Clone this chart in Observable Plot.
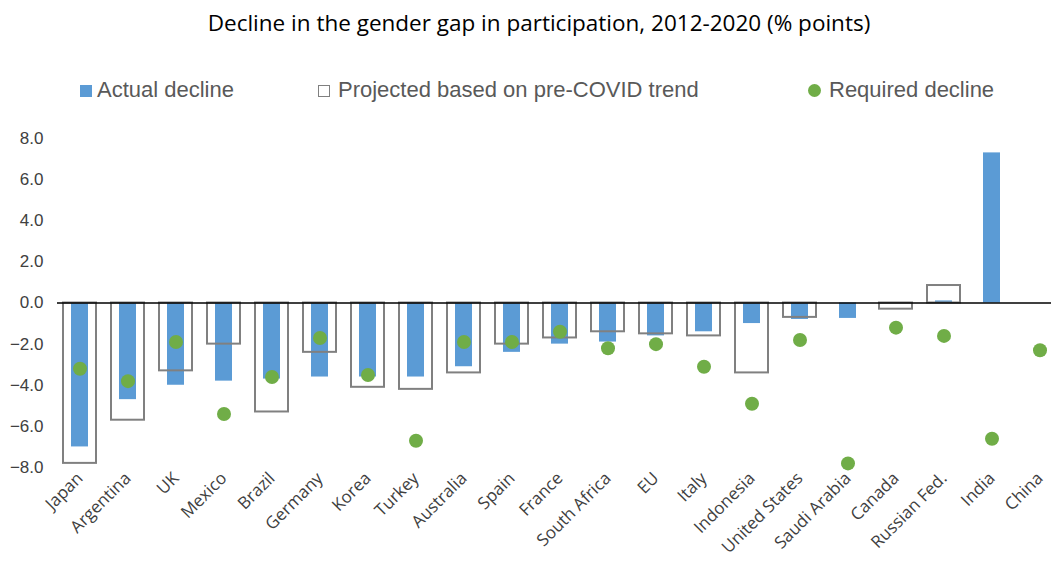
<!DOCTYPE html>
<html>
<head>
<meta charset="utf-8">
<script src="https://cdn.jsdelivr.net/npm/d3@7"></script>
<script src="https://cdn.jsdelivr.net/npm/@observablehq/plot@0.6"></script>
<style>
  body { margin: 0; background: #fff; font-family: "Open Sans", "Noto Sans", sans-serif; overflow: hidden; }
  #wrap { position: relative; width: 1051px; height: 571px; overflow: hidden; }
  #title { position: absolute; top: 7px; left: 0; width: 1078px; text-align: center; font-size: 22.5px; color: #000; }
  .leg { position: absolute; top: 77px; font-size: 22px; color: #595959; font-family: "Liberation Sans", Arial, sans-serif; }
  .sw { display: inline-block; width: 12px; height: 12px; margin-right: 5px; vertical-align: 0px; }
  #chart { position: absolute; top: 120px; left: 0; }
</style>
</head>
<body>
<div id="wrap">
  <div id="title">Decline in the gender gap in participation, 2012-2020 (% points)</div>
  <div class="leg" style="left:80px"><span class="sw" style="background:#5b9bd5"></span>Actual decline</div>
  <div class="leg" style="left:318px"><span class="sw" style="border:1.5px solid #808080;width:10px;height:10px;margin-right:8px"></span>Projected based on pre-COVID trend</div>
  <div class="leg" style="left:808px"><span class="sw" style="background:#70ad47;border-radius:50%;width:13px;height:13px;margin-right:8px"></span>Required decline</div>
  <div id="chart"></div>
</div>
<script>
const countries = ["Japan", "Argentina", "UK", "Mexico", "Brazil", "Germany", "Korea", "Turkey", "Australia", "Spain",
  "France", "South Africa", "EU", "Italy", "Indonesia", "United States", "Saudi Arabia", "Canada", "Russian Fed.", "India", "China"];
const actual = [-7.0, -4.7, -4.0, -3.8, -3.7, -3.6, -3.6, -3.6, -3.1, -2.4,
  -2.0, -1.9, -1.6, -1.4, -1.0, -0.8, -0.75, 0.0, 0.1, 7.3, null];
const projected = [-7.8, -5.7, -3.3, -2.0, -5.3, -2.4, -4.1, -4.2, -3.4, -2.0,
  -1.7, -1.4, -1.5, -1.6, -3.4, -0.7, null, -0.3, 0.85, null, null];
const required = [-3.2, -3.8, -1.9, -5.4, -3.6, -1.7, -3.5, -6.7, -1.9, -1.9,
  -1.4, -2.2, -2.0, -3.1, -4.9, -1.8, -7.8, -1.2, -1.6, -6.6, -2.3];
const yTicks = [-8, -6, -4, -2, 0, 2, 4, 6, 8];

const rows = countries.map((c, i) => ({country: c, actual: actual[i], projected: projected[i], required: required[i]}));

const chart = Plot.plot({
  width: 1051,
  height: 451,
  marginTop: 18,
  marginBottom: 104,
  marginLeft: 57,
  marginRight: 0,
  style: {fontFamily: "Liberation Sans, Arial, sans-serif", fontSize: "17px", color: "#595959", overflow: "visible"},
  x: {domain: countries, range: [54, 1064], paddingInner: 0.32, paddingOuter: 0.16, label: null, tickSize: 0, tickRotate: -45, tickPadding: 8},
  y: {domain: [-8, 8], ticks: yTicks, tickFormat: d3.format(".1f"), grid: false, label: null, tickSize: 0, tickPadding: 14},
  marks: [
    Plot.ruleY(yTicks.filter(d => d !== 0), {x1: 57, x2: 1051, stroke: "#d9d9d9", strokeWidth: 2}),
    Plot.barY(rows.filter(d => d.actual != null), {x: "country", y: "actual", fill: "#5b9bd5", insetLeft: 8, insetRight: 8}),
    Plot.barY(rows.filter(d => d.projected != null), {x: "country", y: "projected", fill: "none", stroke: "#808080", strokeWidth: 2}),
    Plot.ruleY([0], {stroke: "#000", strokeWidth: 1.5}),
    Plot.dot(rows, {x: "country", y: "required", r: 7, fill: "#70ad47"})
  ]
});
chart.querySelectorAll("[aria-label='x-axis tick label'] text").forEach(t => { t.setAttribute("font-family", "Open Sans, sans-serif"); t.setAttribute("font-size", "17"); t.setAttribute("fill", "#404040"); });
chart.querySelectorAll("[aria-label='y-axis tick label'] text").forEach(t => { t.setAttribute("fill", "#404040"); });
document.getElementById("chart").append(chart);
</script>
</body>
</html>
